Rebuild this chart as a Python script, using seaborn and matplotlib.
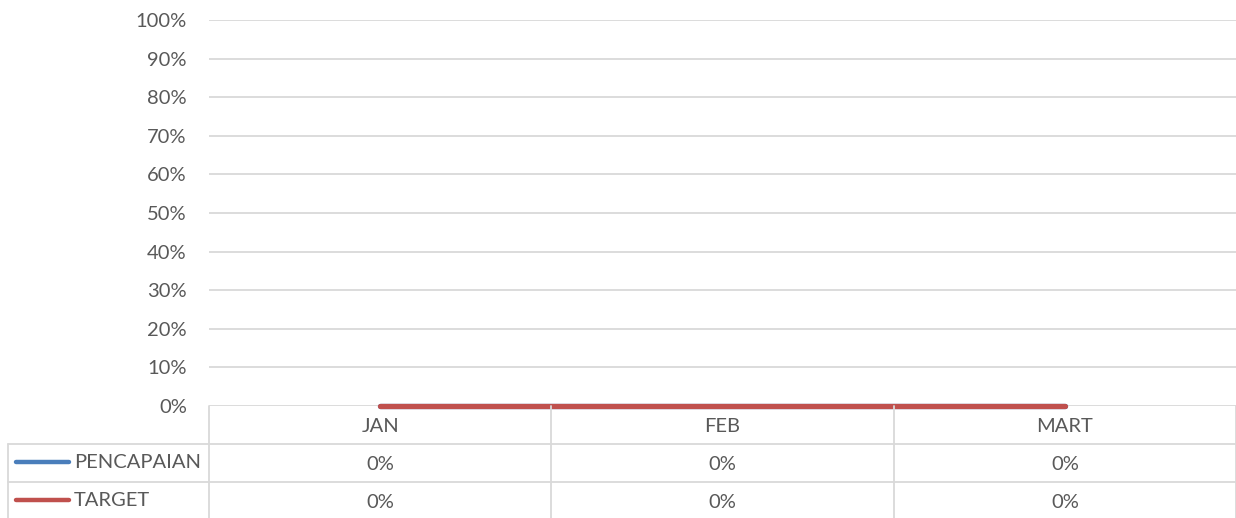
import pandas as pd
import numpy as np
import seaborn as sns
import matplotlib.pyplot as plt
from matplotlib.lines import Line2D
from matplotlib.ticker import PercentFormatter

months = ["JAN", "FEB", "MART"]
pencapaian = [0.0, 0.0, 0.0]
target = [0.0, 0.0, 0.0]
series_names = ["PENCAPAIAN", "TARGET"]
colors = {"PENCAPAIAN": "#4A7EBB", "TARGET": "#C0504D"}

df = pd.DataFrame({
    "pos": list(range(len(months))) * 2,
    "value": pencapaian + target,
    "series": ["PENCAPAIAN"] * len(months) + ["TARGET"] * len(months),
})

sns.set_style("white")
plt.rcParams['font.family'] = ['Lato', 'DejaVu Sans']
txt = "#595959"
grid = "#D9D9D9"
fs = 14.5

W, H = 1236, 518
fig = plt.figure(figsize=(W / 100, H / 100), dpi=100)

def fx(px):
    return px / W

def fy(py):
    return 1 - py / H

left, right, top, bottom = 209, 1236, 20, 406
ax = fig.add_axes([fx(left), fy(bottom), fx(right - left), fy(top) - fy(bottom)])

sns.lineplot(data=df, x="pos", y="value", hue="series", palette=colors,
             linewidth=3.8, ax=ax, legend=False, solid_capstyle="round")
for ln in ax.get_lines():
    ln.set_clip_on(False)
    ln.set_zorder(5)

ax.set_xlim(-0.5, len(months) - 0.5)
ax.set_ylim(0, 1)
ax.set_yticks(np.arange(0, 1.01, 0.1))
ax.yaxis.set_major_formatter(PercentFormatter(1.0, decimals=0))
ax.set_xticks([])
ax.set_xlabel("")
ax.set_ylabel("")
ax.tick_params(axis="y", length=0, pad=16, labelsize=fs, labelcolor=txt)
ax.grid(axis="y", color=grid, linewidth=1.3)
ax.set_axisbelow(True)
for s in ax.spines.values():
    s.set_visible(False)

# data table below the plot
def hline(y, x0, x1):
    fig.add_artist(Line2D([fx(x0), fx(x1)], [fy(y), fy(y)], color=grid, lw=1.3,
                          transform=fig.transFigure))

def vline(x, y0, y1):
    fig.add_artist(Line2D([fx(x), fx(x)], [fy(y0), fy(y1)], color=grid, lw=1.3,
                          transform=fig.transFigure))

col_w = (right - left) / len(months)
for y in [444, 482]:
    hline(y, 8, right)
vline(8, 444, H)
for i in range(len(months) + 1):
    vline(left + i * col_w, bottom, H)

for i, m in enumerate(months):
    cx = left + (i + 0.5) * col_w
    fig.text(fx(cx), fy(426), m, ha="center", va="center", fontsize=fs, color=txt)
    fig.text(fx(cx), fy(464), f"{pencapaian[i]:.0%}", ha="center", va="center",
             fontsize=fs, color=txt)
    fig.text(fx(cx), fy(502), f"{target[i]:.0%}", ha="center", va="center",
             fontsize=fs, color=txt)

for name, yc in zip(series_names, [462, 500]):
    fig.add_artist(Line2D([fx(16), fx(69)], [fy(yc), fy(yc)], color=colors[name], lw=3.2,
                          solid_capstyle="round", transform=fig.transFigure))
    fig.text(fx(74), fy(yc + 1), name, ha="left", va="center", fontsize=fs, color=txt)

fig.savefig("out.png", dpi=100)
